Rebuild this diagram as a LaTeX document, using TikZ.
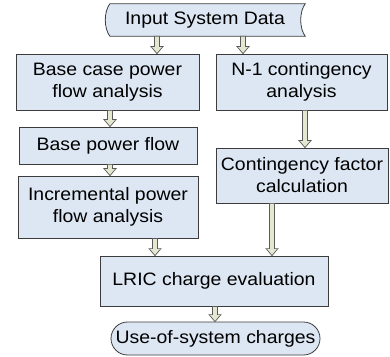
\documentclass[tikz,border=0pt]{standalone}
\usepackage{fontspec}
\setmainfont[FakeStretch=1.08]{Liberation Sans}
\usetikzlibrary{calc,backgrounds}
\definecolor{boxfill}{RGB}{221,231,243}
\definecolor{arrfill}{RGB}{229,232,208}
\definecolor{edgecol}{RGB}{60,60,60}
\definecolor{arredge}{RGB}{90,90,90}
\tikzset{
  box/.style={draw=edgecol, fill=boxfill, line width=0.8pt, inner sep=0pt, align=center,
    font=\fontsize{18}{22}\selectfont},
  plain/.style={inner sep=0pt, align=center, font=\fontsize{18}{22}\selectfont},
  arrowshape/.style={draw=arredge, fill=arrfill, line width=0.7pt, line join=miter}
}
\newcommand\blockarr[3]{\path[arrowshape] let \p1=(#2), \p2=(#3) in
  (#1pt-2.5pt,\y1) -- (#1pt-2.5pt,\y2+7pt) -- (#1pt-6pt,\y2+7pt) -- (#1pt,\y2)
  -- (#1pt+6pt,\y2+7pt) -- (#1pt+2.5pt,\y2+7pt) -- (#1pt+2.5pt,\y1) -- cycle;}
\begin{document}
\begin{tikzpicture}[x=1pt,y=1pt]
\useasboundingbox (0,0) rectangle (390,356);
\node[plain, minimum width=200pt, minimum height=32pt] (inp) at (205,336) {Input System Data};
\begin{pgfonlayer}{background}
\draw[draw=edgecol, fill=boxfill, line width=0.8pt]
  ([xshift=5pt]inp.north west) -- (inp.north east)
  .. controls +(-6,-8) and +(-6,8) .. (inp.south east)
  -- ([xshift=5pt]inp.south west)
  .. controls +(-6,8) and +(-6,-8) .. ([xshift=5pt]inp.north west) -- cycle;
\end{pgfonlayer}
\node[box, minimum width=183pt, minimum height=56pt] (base) at (107.5,274) {Base case power\\flow analysis};
\node[box, minimum width=171pt, minimum height=56pt] (n1) at (301.5,274) {N-1 contingency\\analysis};
\node[box, minimum width=178pt, minimum height=37pt] (bpf) at (108,210.5) {Base power flow};
\node[box, minimum width=180pt, minimum height=62pt] (inc) at (108,149) {Incremental power\\flow analysis};
\node[box, minimum width=172pt, minimum height=55pt] (cf) at (302,180.5) {Contingency factor\\calculation};
\node[box, minimum width=228pt, minimum height=50pt] (lric) at (214,75) {LRIC charge evaluation};
\node[box, minimum width=209pt, minimum height=33pt, rounded corners=16.5pt] (use) at (215.5,17.5) {Use-of-system charges};
\blockarr{157}{inp.south}{base.north}
\blockarr{243}{inp.south}{n1.north}
\blockarr{110}{base.south}{bpf.north}
\blockarr{110}{bpf.south}{inc.north}
\blockarr{305}{n1.south}{cf.north}
\blockarr{272}{cf.south}{lric.north}
\blockarr{155}{inc.south}{lric.north}
\blockarr{215}{lric.south}{use.north}
\end{tikzpicture}
\end{document}
